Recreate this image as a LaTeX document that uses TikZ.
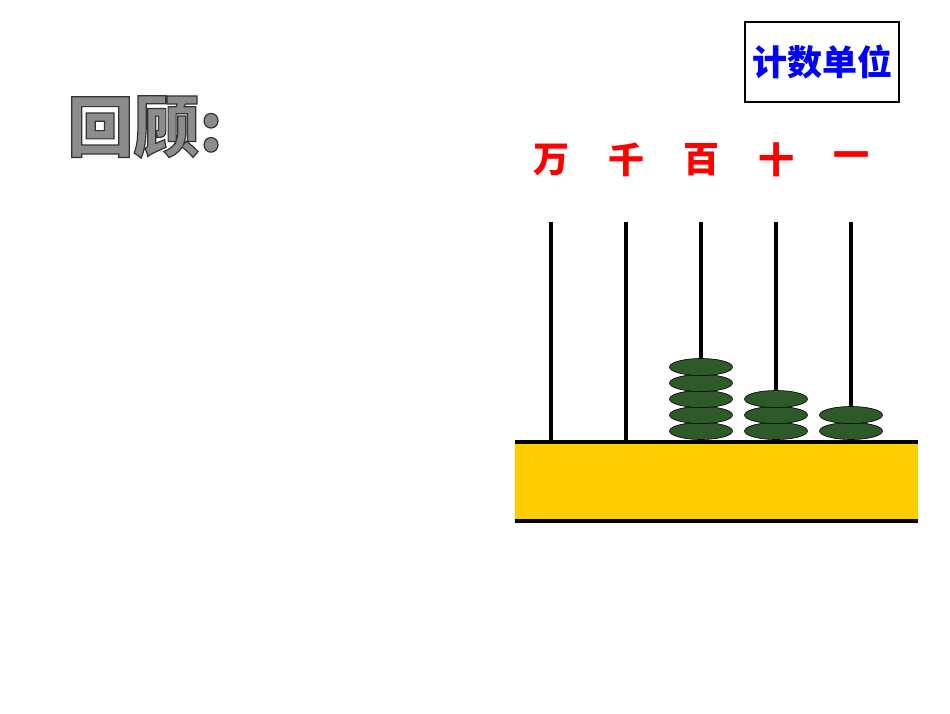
\documentclass[tikz,border=0pt]{standalone}
\usepackage{fontspec}
\usetikzlibrary{shapes.geometric}
\newfontfamily\cjk{Noto Sans CJK SC}
\definecolor{bead}{HTML}{2E5A2A}
\definecolor{wood}{HTML}{FFCC00}
\begin{document}
\begin{tikzpicture}[x=1pt,y=-1pt,
  rod/.style={line width=4pt},
  beadst/.style={ellipse,draw=black,fill=bead,minimum width=63pt,minimum height=17pt,inner sep=0pt,line width=0.6pt},
  lab/.style={text=red,font=\cjk\bfseries\fontsize{36}{36}\selectfont},
  ttl/.style={font=\cjk\bfseries\fontsize{66}{66}\selectfont}]
\useasboundingbox (0,0) rectangle (950,713);
\node[ttl,text=black!45] (t) at (145,127) {\special{pdf:literal direct 2 Tr 1.2 w 0.2 G}回顾:\special{pdf:literal direct 0 Tr}};
\node[draw=black,line width=1.5pt,minimum width=154pt,minimum height=80pt,inner sep=0pt,text=blue,font=\cjk\bfseries\fontsize{35}{35}\selectfont] (u) at (822,62) {计数单位};
\foreach \n/\x/\c in {w/551/万,q/626/千,b/701/百,s/776/十,g/851/一}{
  \node[lab] (l\n) at (\x,160) {\c};
  \coordinate (top\n) at (\x,222);
  \coordinate (bot\n) at (\x,442);
  \draw[rod] (top\n) -- (bot\n);
}
\node[fill=wood,minimum width=403pt,minimum height=79pt,inner sep=0pt] (base) at (716.5,481.5) {};
\draw[line width=4pt] (base.north west) -- (base.north east);
\draw[line width=4pt] (base.south west) -- (base.south east);
\foreach \y [count=\i] in {431,415,399,383,367}{\node[beadst] (bb\i) at (701,\y) {};}
\foreach \y [count=\i] in {431,415,399}{\node[beadst] (sb\i) at (776,\y) {};}
\foreach \y [count=\i] in {431,415}{\node[beadst] (gb\i) at (851,\y) {};}
\end{tikzpicture}
\end{document}
